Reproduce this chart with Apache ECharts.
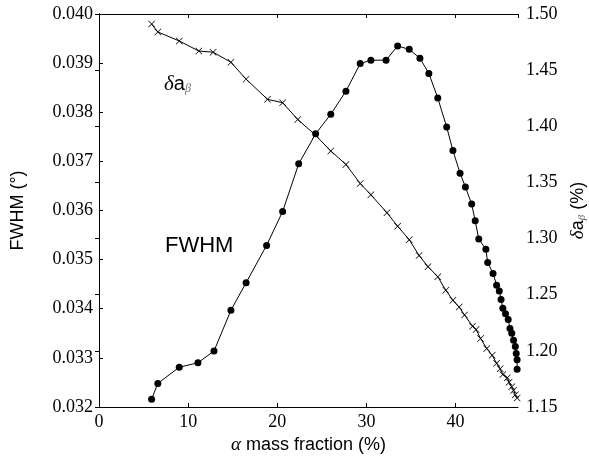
<!DOCTYPE html>
<html>
<head>
<meta charset="utf-8">
<script src="https://cdn.jsdelivr.net/npm/echarts@6/dist/echarts.min.js"></script>
<style>
  html, body { margin: 0; padding: 0; background: #fff; }
  #main { width: 589px; height: 460px; }
</style>
</head>
<body>
<div id="main"></div>
<script>
// FWHM (left axis), filled dots
const fwhmX = [5.9, 6.6, 9.0, 11.1, 12.9, 14.8, 16.5, 18.8, 20.6, 22.4, 24.3, 26.0, 27.7, 29.3, 30.5, 32.2, 33.5, 34.8, 36.0, 37.0, 38.0, 39.0, 39.7, 40.5, 41.1, 41.8, 42.2, 42.6, 43.4, 43.6, 44.2, 44.6, 44.9, 45.1, 45.3, 45.6, 45.9, 46.1, 46.3, 46.5, 46.7, 46.8, 46.9, 46.9];
const fwhmY = [0.03216, 0.03248, 0.03281, 0.03290, 0.03314, 0.03397, 0.03453, 0.03529, 0.03598, 0.03695, 0.03756, 0.03796, 0.03843, 0.03899, 0.03906, 0.03906, 0.03935, 0.03928, 0.03910, 0.03879, 0.03829, 0.03770, 0.03722, 0.03676, 0.03648, 0.03613, 0.03579, 0.03542, 0.03521, 0.03494, 0.03472, 0.03448, 0.03436, 0.03419, 0.03401, 0.03390, 0.03378, 0.03360, 0.03350, 0.03336, 0.03323, 0.03309, 0.03296, 0.03277];

// delta a_beta (right axis), x markers
const daX = [5.9, 6.6, 9.0, 11.2, 12.8, 14.8, 16.5, 18.9, 20.6, 22.3, 24.3, 26.0, 27.7, 29.3, 30.5, 32.3, 33.5, 34.8, 35.9, 36.9, 38.0, 38.9, 39.7, 40.4, 41.0, 41.9, 42.3, 42.8, 43.5, 44.1, 44.6, 45.0, 45.3, 45.8, 46.0, 46.3, 46.5, 46.7, 46.9];
const daY = [1.491, 1.484, 1.476, 1.467, 1.466, 1.457, 1.442, 1.424, 1.421, 1.406, 1.392, 1.378, 1.366, 1.349, 1.339, 1.323, 1.311, 1.299, 1.285, 1.275, 1.266, 1.254, 1.245, 1.239, 1.232, 1.222, 1.219, 1.211, 1.202, 1.196, 1.189, 1.184, 1.179, 1.176, 1.172, 1.168, 1.165, 1.161, 1.158];

// axes
const xMin = 0, xMax = 47, xStep = 10;
const leftMin = 0.032, leftMax = 0.040, leftStep = 0.001;
const rightMin = 1.15, rightMax = 1.50, rightStep = 0.05;

const serif = '"Liberation Serif", "DejaVu Serif", serif';
const sans = '"Liberation Sans", "DejaVu Sans", sans-serif';
const crossPath = 'path://M0,0.7L0.7,0L5,4.3L9.3,0L10,0.7L5.7,5L10,9.3L9.3,10L5,5.7L0.7,10L0,9.3L4.3,5Z';

const chart = echarts.init(document.getElementById('main'));

const tickLabel = { color: '#000', fontFamily: serif, fontSize: 18 };

const option = {
  backgroundColor: '#fff',
  animation: false,
  grid: { left: 99, right: 71, top: 14, bottom: 53, containLabel: false, outerBoundsMode: 'none' },
  xAxis: [
    {
      type: 'value', min: xMin, max: xMax, interval: xStep,
      position: 'bottom',
      name: '{g|α} mass fraction (%)',
      nameLocation: 'middle', nameGap: 28,
      nameTextStyle: {
        color: '#000', fontFamily: sans, fontSize: 18,
        rich: { g: { fontFamily: serif, fontStyle: 'italic', fontSize: 19, color: '#000' } }
      },
      axisLine: { show: true, lineStyle: { color: '#000', width: 1 } },
      axisTick: { show: true, inside: true, length: 4, lineStyle: { color: '#000' } },
      axisLabel: Object.assign({ margin: 6, showMaxLabel: false }, tickLabel),
      splitLine: { show: false }
    },
    {
      type: 'value', min: xMin, max: xMax, interval: xStep,
      position: 'top',
      axisLine: { show: true, lineStyle: { color: '#000', width: 1 } },
      axisTick: { show: true, inside: true, length: 4, lineStyle: { color: '#000' } },
      axisLabel: { show: false },
      splitLine: { show: false }
    }
  ],
  yAxis: [
    {
      type: 'value', min: leftMin, max: leftMax, interval: leftStep,
      position: 'left',
      name: 'FWHM (°)',
      nameLocation: 'middle', nameGap: 72, nameRotate: 90,
      nameTextStyle: { color: '#000', fontFamily: sans, fontSize: 18 },
      axisLine: { show: true, lineStyle: { color: '#000', width: 1 } },
      axisTick: { show: true, inside: true, length: 4, lineStyle: { color: '#000' } },
      axisLabel: Object.assign({ margin: 6, formatter: v => v.toFixed(3) }, tickLabel),
      splitLine: { show: false }
    },
    {
      type: 'value', min: rightMin, max: rightMax, interval: rightStep,
      position: 'right',
      name: '{d|δ}a{b|β} (%)',
      nameLocation: 'middle', nameGap: 50, nameRotate: 90,
      nameTextStyle: {
        color: '#000', fontFamily: sans, fontSize: 18,
        rich: {
          d: { fontFamily: serif, fontStyle: 'italic', fontSize: 19, color: '#000' },
          b: { fontFamily: serif, fontStyle: 'italic', fontSize: 11, color: '#666', padding: [8, 0, 0, 0] }
        }
      },
      axisLine: { show: true, lineStyle: { color: '#000', width: 1 } },
      axisTick: { show: true, inside: true, length: 4, lineStyle: { color: '#000' } },
      axisLabel: Object.assign({ margin: 8, formatter: v => v.toFixed(2) }, tickLabel),
      splitLine: { show: false }
    }
  ],
  graphic: [
    {
      type: 'text', left: 164, top: 74,
      style: {
        text: '{d|δ}a{b|β}',
        fill: '#000', font: '20px ' + sans,
        rich: {
          d: { fontFamily: serif, fontStyle: 'italic', fontSize: 21, fill: '#000' },
          b: { fontFamily: serif, fontStyle: 'italic', fontSize: 12, fill: '#777', padding: [9, 0, 0, 0] }
        }
      }
    },
    {
      type: 'text', left: 165, top: 235,
      style: { text: 'FWHM', fill: '#000', font: '22px ' + sans }
    }
  ],
  series: [
    {
      name: 'FWHM', type: 'line',
      xAxisIndex: 0, yAxisIndex: 0,
      data: fwhmX.map((x, i) => [x, fwhmY[i]]),
      symbol: 'circle', symbolSize: 7, showAllSymbol: true,
      lineStyle: { color: '#000', width: 1 },
      itemStyle: { color: '#000' },
      clip: true
    },
    {
      name: 'δaβ', type: 'line',
      xAxisIndex: 0, yAxisIndex: 1,
      data: daX.map((x, i) => [x, daY[i]]),
      symbol: crossPath, symbolSize: 7, showAllSymbol: true,
      lineStyle: { color: '#000', width: 1 },
      itemStyle: { color: '#000' },
      clip: true
    }
  ]
};

chart.setOption(option);
window.onresize = chart.resize;
</script>
</body>
</html>
